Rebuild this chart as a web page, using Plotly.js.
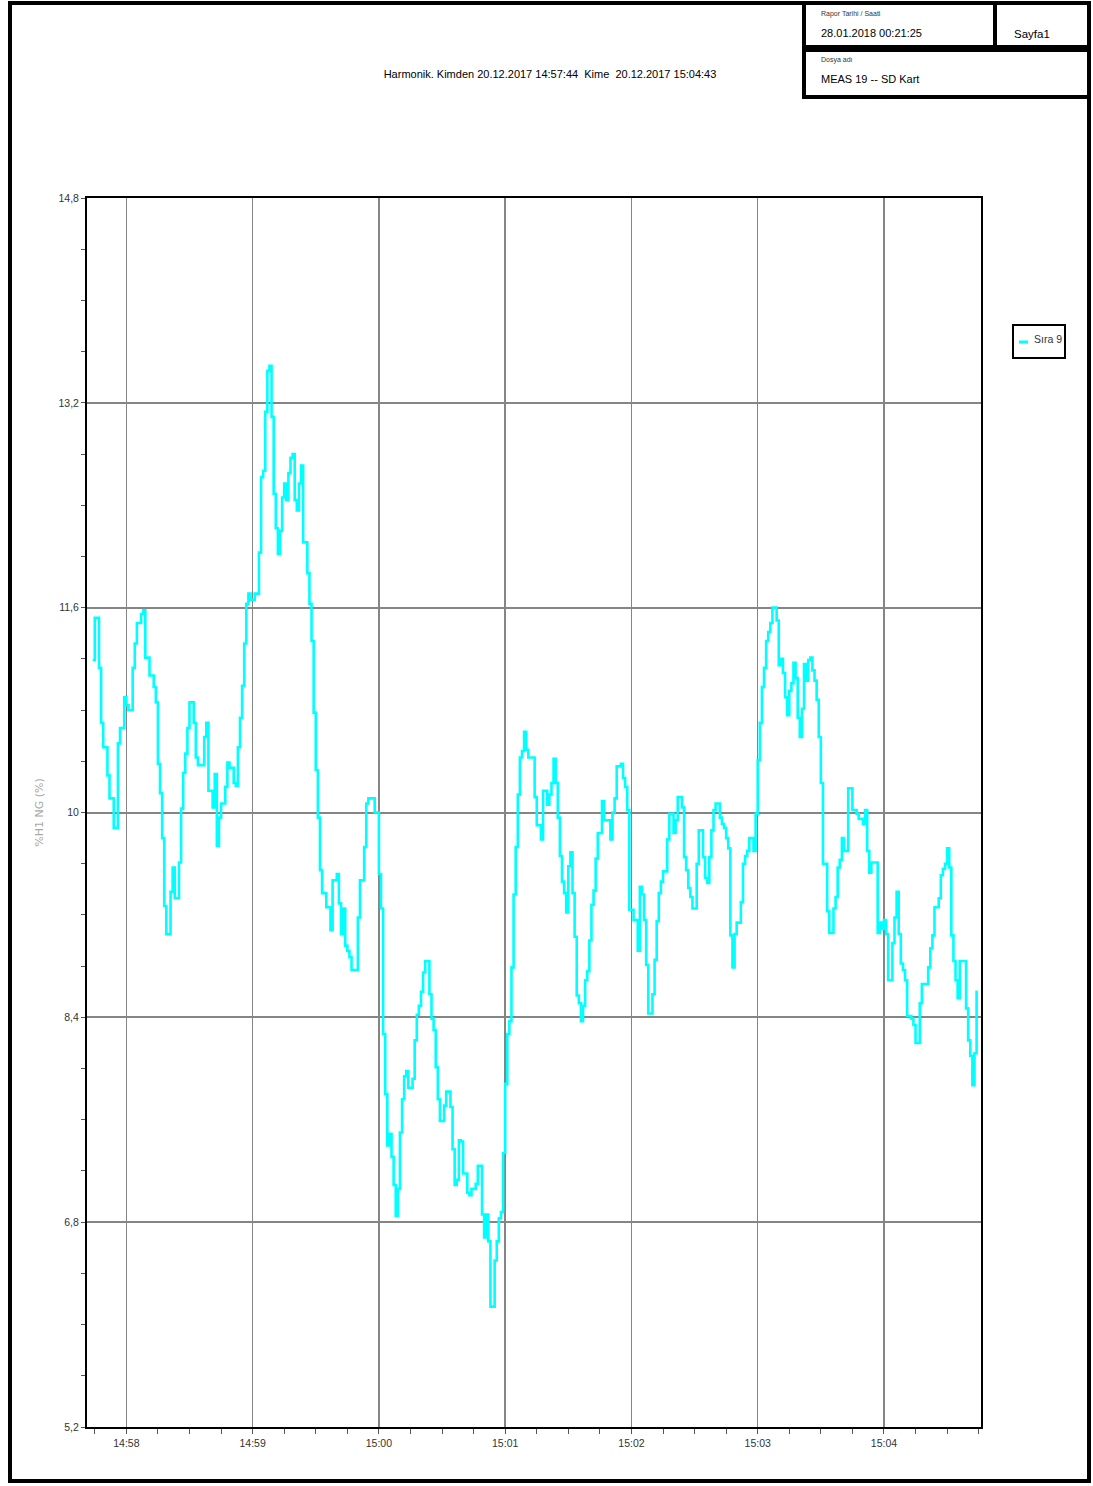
<!DOCTYPE html>
<html>
<head>
<meta charset="utf-8">
<script src="https://cdn.plot.ly/plotly-3.0.1.min.js"></script>
<style>
html,body{margin:0;padding:0;background:#fff;}
#chart{width:1093px;height:1486px;}
</style>
</head>
<body>
<div id="chart"></div>
<script>
// ---- data ----
const startTime = '2017-12-20 14:57:44';
const endTime = '2017-12-20 15:04:43';
const seriesName = 'Sıra 9';
const yAxisTitle = '%H1 NG (%)';
const chartTitle = 'Harmonik. Kimden 20.12.2017 14:57:44  Kime  20.12.2017 15:04:43';
const reportDateLabel = 'Rapor Tarihi / Saati';
const reportDate = '28.01.2018 00:21:25';
const pageLabel = 'Sayfa1';
const fileLabel = 'Dosya adı';
const fileName = 'MEAS 19 -- SD Kart';

// seconds after start time
const secs = [0,1,3,4,5,7,8,10,12,13,15,16,17,19,20,21,23,24,25,27,29,30,31,32,33,34,35,37,38,39,41,42,43,44,45,46,48,49,50,53,54,55,57,58,59,60,61,63,64,65,67,68,69,70,71,72,73,74,75,77,79,80,81,82,83,84,85,86,87,88,89,90,91,92,93,94,95,96,97,98,99,100,102,103,104,105,106,107,108,109,111,113,114,116,117,118,119,120,121,122,123,126,127,129,130,131,134,136,137,138,139,140,141,142,143,144,145,146,147,148,149,150,152,153,154,155,156,157,158,160,161,162,163,164,165,167,168,170,171,172,173,174,175,176,178,179,180,182,183,185,186,187,188,189,191,192,193,194,195,196,197,198,199,200,201,202,203,204,205,206,207,210,211,213,214,216,217,218,219,220,221,222,223,224,225,226,227,228,229,230,231,232,233,234,235,236,237,238,239,240,242,243,246,247,248,249,251,252,253,254,255,257,259,260,261,262,263,264,266,267,268,269,270,271,273,274,276,277,278,280,281,282,283,284,285,287,288,290,291,292,293,294,295,296,298,299,300,301,302,303,304,305,306,308,309,310,311,312,314,315,316,317,318,319,320,321,322,323,325,326,327,328,329,330,331,332,333,334,335,336,337,338,339,340,341,342,343,344,345,346,347,349,350,352,353,354,355,356,357,359,361,363,364,366,367,368,369,370,373,374,375,376,377,378,380,381,382,383,384,385,386,387,389,390,391,393,394,397,398,399,400,402,403,404,405,406,407,408,409,410,411,412,415,416,417,418,419,420];
const vals = [11.19,11.52,11.13,10.70,10.51,10.29,10.11,9.88,10.54,10.66,10.90,10.84,10.80,11.13,11.32,11.48,11.55,11.58,11.21,11.07,10.98,10.86,10.38,10.15,9.80,9.27,9.05,9.38,9.57,9.33,9.61,10.03,10.31,10.46,10.66,10.86,10.70,10.43,10.37,10.59,10.70,10.17,10.04,10.30,9.74,9.96,10.07,10.20,10.39,10.35,10.23,10.21,10.51,10.74,10.99,11.32,11.63,11.71,11.66,11.71,12.03,12.62,12.67,13.13,13.45,13.49,13.09,12.49,12.22,12.02,12.20,12.46,12.57,12.44,12.65,12.77,12.80,12.44,12.36,12.57,12.71,12.11,11.87,11.63,11.34,10.78,10.33,9.96,9.55,9.37,9.26,9.08,9.47,9.52,9.29,9.05,9.25,8.96,8.92,8.87,8.77,9.18,9.47,9.73,10.07,10.11,10.00,9.52,9.25,8.27,7.80,7.40,7.49,7.31,7.09,6.85,7.06,7.50,7.76,7.94,7.98,7.85,7.92,8.22,8.42,8.49,8.60,8.75,8.84,8.58,8.39,8.30,8.01,7.76,7.59,7.71,7.82,7.70,7.37,7.09,7.13,7.44,7.43,7.18,7.03,7.01,7.06,7.10,7.24,6.86,6.68,6.86,6.65,6.14,6.50,6.65,6.83,6.88,7.34,7.88,8.27,8.37,8.79,9.36,9.73,10.14,10.43,10.48,10.63,10.49,10.43,10.12,9.90,9.79,10.17,10.06,10.14,10.23,10.42,10.23,9.96,9.66,9.46,9.37,9.22,9.58,9.69,9.37,9.03,8.57,8.51,8.37,8.49,8.69,8.76,9.00,9.28,9.39,9.64,9.84,10.09,9.94,9.79,10.00,10.11,10.36,10.38,10.27,10.20,10.02,9.24,9.16,8.92,9.42,9.36,9.16,8.81,8.43,8.58,8.85,9.15,9.37,9.46,9.54,9.79,9.99,9.84,9.94,10.12,10.04,9.65,9.55,9.41,9.34,9.25,9.60,9.86,9.65,9.49,9.45,9.65,9.86,10.02,10.07,9.96,9.91,9.88,9.80,9.72,9.04,8.79,9.05,9.14,9.30,9.60,9.66,9.70,9.80,9.70,9.99,10.41,10.70,10.98,11.13,11.34,11.41,11.48,11.60,11.50,11.15,11.20,11.09,10.90,10.76,10.95,11.01,11.17,11.05,10.74,10.59,10.81,11.16,11.03,11.19,11.21,11.11,11.03,10.88,10.59,10.23,9.60,9.23,9.06,9.25,9.34,9.57,9.63,9.80,9.70,10.19,10.02,9.99,9.95,9.91,10.02,9.70,9.53,9.61,9.06,9.14,9.09,9.16,9.05,8.69,8.98,9.18,9.38,9.05,8.82,8.77,8.69,8.41,8.39,8.34,8.20,8.51,8.66,8.79,8.94,9.04,9.26,9.33,9.51,9.56,9.60,9.72,9.57,9.04,8.84,8.69,8.55,8.84,8.47,8.22,8.10,7.87,8.12,8.61];

// axis settings
const xRange = ['2017-12-20 14:57:41.3', '2017-12-20 15:04:46.1'];
const xTick0 = '2017-12-20 14:58:00';
const yRange = [5.2, 14.8];
const yTick0 = 5.2, yStep = 1.6, yMinorStep = 0.4;

// ---- build ----
const base = new Date(startTime.replace(' ', 'T') + 'Z').getTime();
const times = secs.map(s => new Date(base + s * 1000).toISOString().replace('T', ' ').replace('Z', ''));

const W = 1093, H = 1486;
const L = 87, R = 981, T = 198, B = 1427;
const PX = X => (X - L) / (R - L);
const PY = Y => (B - Y) / (B - T);

const sans = 'Liberation Sans, Arial, sans-serif';

function rect(x0, y0, x1, y1, w, color) {
  return {type: 'rect', xref: 'paper', yref: 'paper', x0: PX(x0), x1: PX(x1), y0: PY(y1), y1: PY(y0),
    line: {color: color || '#000', width: w}, fillcolor: 'rgba(0,0,0,0)', layer: 'above'};
}
function label(text, x, y, size, color) {
  return {text: text, xref: 'paper', yref: 'paper', x: PX(x), y: PY(y), xanchor: 'left', yanchor: 'middle',
    showarrow: false, font: {family: sans, size: size, color: color || '#000'}};
}

const trace = {
  x: times, y: vals, type: 'scatter', mode: 'lines', name: seriesName,
  line: {color: '#00ffff', width: 2.6, shape: 'hv'}, showlegend: false
};

const tickFont = {family: sans, size: 10.5, color: '#333'};

const layout = {
  width: W, height: H,
  margin: {l: L, r: W - R, t: T, b: H - B, pad: 0},
  paper_bgcolor: '#fff', plot_bgcolor: '#fff',
  separators: ',.',
  showlegend: false,
  title: {text: chartTitle, font: {family: sans, size: 11, color: '#000'},
    x: 550 / W, xref: 'container', xanchor: 'center', y: 1 - 74 / H, yref: 'container', yanchor: 'middle'},
  xaxis: {
    type: 'date', range: xRange, autorange: false,
    tick0: xTick0, dtick: 60000, tickformat: '%H:%M',
    showgrid: true, gridcolor: '#858585', gridwidth: 1.5,
    showline: true, linecolor: '#000', linewidth: 2, mirror: true,
    ticks: 'outside', ticklen: 5, tickcolor: '#555', tickwidth: 1,
    tickfont: tickFont, zeroline: false,
    minor: {tick0: xTick0, dtick: 15000, ticks: 'outside', ticklen: 5, tickcolor: '#555', showgrid: false}
  },
  yaxis: {
    range: yRange, autorange: false,
    tick0: yTick0, dtick: yStep,
    showgrid: true, gridcolor: '#858585', gridwidth: 2,
    showline: true, linecolor: '#000', linewidth: 2, mirror: true,
    ticks: 'outside', ticklen: 4, tickcolor: '#555', tickwidth: 1,
    tickfont: tickFont, zeroline: false,
    minor: {tick0: yTick0, dtick: yMinorStep, ticks: 'outside', ticklen: 4, tickcolor: '#555', showgrid: false},
    title: {text: yAxisTitle, font: {family: 'DejaVu Sans, sans-serif', size: 11, color: '#a8a8a8'}, standoff: 13}
  },
  shapes: [
    rect(10, 3, 1089, 1481, 4),
    rect(804, 3, 995, 47, 4),
    rect(995, 3, 1089, 47, 4),
    rect(804, 50, 1089, 97, 4),
    rect(1013, 325, 1065, 358, 2),
    {type: 'line', xref: 'paper', yref: 'paper', x0: PX(1019), x1: PX(1028), y0: PY(342), y1: PY(342),
      line: {color: '#00ffff', width: 3}, layer: 'above'}
  ],
  annotations: [
    label(reportDateLabel, 819, 14, 7, '#333'),
    label(reportDate, 819, 33, 11),
    label(pageLabel, 1012, 34, 11.5),
    label(fileLabel, 819, 60, 7, '#333'),
    label(fileName, 819, 79, 11),
    label(seriesName, 1032, 339, 10.5, '#333')
  ]
};

Plotly.newPlot('chart', [trace], layout, {displayModeBar: false, staticPlot: true});
</script>
</body>
</html>
